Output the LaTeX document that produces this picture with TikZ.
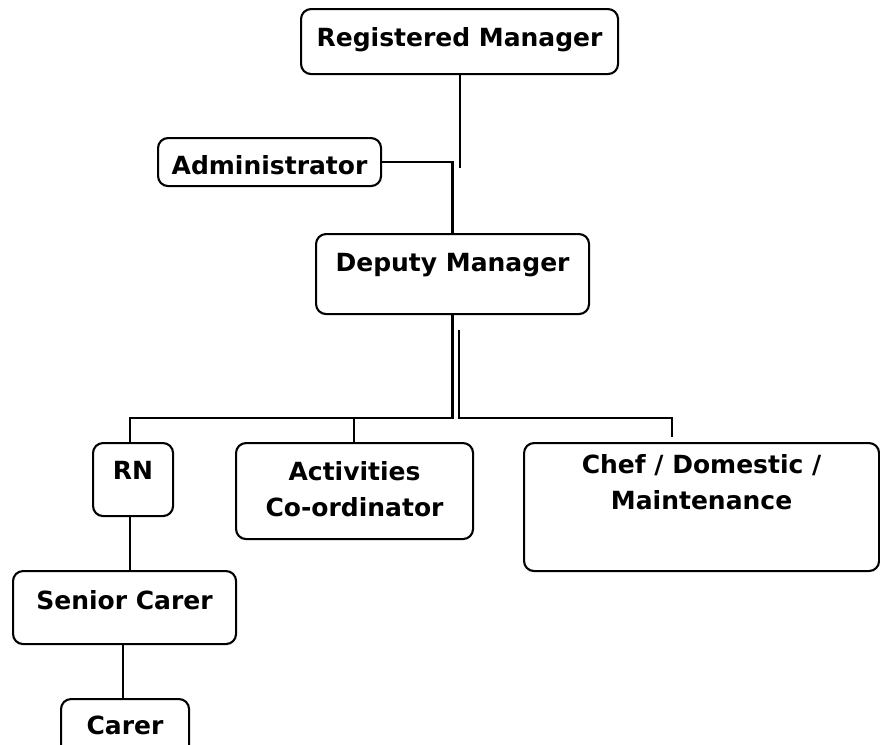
\documentclass[tikz,border=0pt]{standalone}
\usepackage{fontspec}
\setmainfont{DejaVu Sans}
\usepackage{tikz}
\usetikzlibrary{positioning,calc}

\tikzset{
  post/.style={
    draw,
    rectangle,
    rounded corners=10pt,
    line width=2.1pt,
    inner sep=0pt,
    align=center,
    anchor=north west,
    font=\fontsize{25}{36}\selectfont\bfseries,
  },
  link/.style={line width=2.8pt},
}

\begin{document}
\begin{tikzpicture}[x=1pt,y=-1pt]
        \useasboundingbox (0,0) rectangle (880,744);

        % top of the chart
        \node (rm) [post, minimum width=317pt, text height=37pt, text depth=28pt] at (300,8) {Registered Manager};
        \node (admin) [post, minimum width=223pt, text height=36pt, text depth=12pt] at (157,137) {Administrator};
        \node (dm) [post, minimum width=273pt, text height=37pt, text depth=43pt] at (315,233) {Deputy Manager};

        % second row (two-line text sits on its last line)
        \node (rn) [post, minimum width=80pt, text height=36pt, text depth=37pt] at (92,442) {RN};
        \node (act) [post, minimum width=237pt, text height=73pt, text depth=23pt] at (235,442) {Activities\\Co-ordinator};
        \node (chef) [post, minimum width=355pt, text height=66pt, text depth=62pt] at (523,442) {{Chef / Domestic /}\\{Maintenance}};

        % carers
        \node (sc) [post, minimum width=223pt, text height=38pt, text depth=35pt] at (12,570) {Senior Carer};
        \node (carer) [post, minimum width=128pt, text height=35pt, text depth=22pt] at (60,698) {Carer};

        \coordinate (rmend) at (460,168);
        \coordinate (fork) at (459,330);
        \coordinate (chefend) at (672,437);

        \draw [link] (rm.south -| rmend) -- (rmend);
        \draw [link] (admin.east) -| (dm.north);
        \draw [link] (dm.south) |- (130,418) -- (rn.north -| 130,0);
        \draw [link] (354,418) -- (act.north -| 354,0);
        \draw [link] (fork) |- (chefend |- 0,418) -- (chefend);
        \draw [link] (rn.south -| 130,0) -- (sc.north -| 130,0);
        \draw [link] (sc.south -| 123,0) -- (carer.north -| 123,0);

      \end{tikzpicture}
\end{document}
